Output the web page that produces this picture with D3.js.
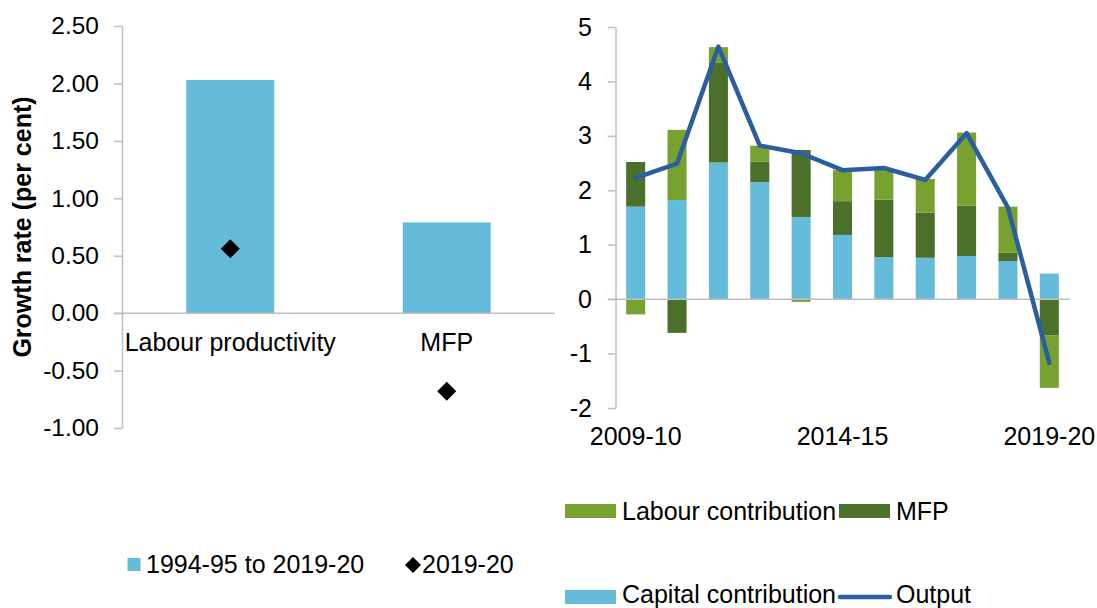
<!DOCTYPE html>
<html>
<head>
<meta charset="utf-8">
<script src="https://cdn.jsdelivr.net/npm/d3@7"></script>
<style>
  html, body { margin: 0; padding: 0; background: #fff; }
  svg { display: block; font-family: "Liberation Sans", Arial, sans-serif; }
</style>
</head>
<body>
<svg id="chart" width="1097" height="608"></svg>
<script>
// ---------- Left panel data ----------
const leftCategories = ["Labour productivity", "MFP"];
const longRunGrowth = [2.03, 0.79];      // 1994-95 to 2019-20
const latestGrowth = [0.56, -0.68];      // 2019-20
const leftTicks = [-1, -0.5, 0, 0.5, 1, 1.5, 2, 2.5];

// ---------- Right panel data ----------
const years = ["2009-10","2010-11","2011-12","2012-13","2013-14","2014-15",
               "2015-16","2016-17","2017-18","2018-19","2019-20"];
const capitalContribution = [1.70, 1.82, 2.51, 2.15, 1.51, 1.18, 0.77, 0.76, 0.79, 0.70, 0.47];
const mfpContribution     = [0.82, -0.62, 1.83, 0.38, 1.23, 0.62, 1.06, 0.83, 0.93, 0.15, -0.67];
const labourContribution  = [-0.28, 1.29, 0.29, 0.29, -0.05, 0.57, 0.55, 0.62, 1.34, 0.85, -0.96];
const outputGrowth        = [2.23, 2.49, 4.64, 2.82, 2.68, 2.37, 2.41, 2.19, 3.05, 1.68, -1.17];
const rightTicks = [-2, -1, 0, 1, 2, 3, 4, 5];
const rightXTickLabels = ["2009-10", "2014-15", "2019-20"];

const C_CAP = "#65BBDA", C_MFP = "#4B7029", C_LAB = "#78A22F", C_OUT = "#2B5E9E", C_AX = "#BFBFBF";
const FS = 25;
const FONT = "Liberation Sans, Arial";

const svg = d3.select("#chart");

function diamond(cx, cy, r) {
  return `M${cx},${cy - r}L${cx + r},${cy}L${cx},${cy + r}L${cx - r},${cy}Z`;
}
const hyphenate = s => String(s).replace("\u2212", "-");

// ================= LEFT PANEL =================
const lx = d3.scaleBand().domain(leftCategories).range([122, 555]).paddingInner(0.594).paddingOuter(0.297);
const ly = d3.scaleLinear().domain([-1, 2.5]).range([428, 26]);
const f2 = d3.format(".2f");

const lyAxis = svg.append("g").attr("transform", "translate(122,0)")
  .call(d3.axisLeft(ly).tickValues(leftTicks).tickFormat(d => hyphenate(f2(d))).tickSize(8).tickSizeOuter(0).tickPadding(15));
lyAxis.select(".domain").attr("stroke", C_AX).attr("stroke-width", 1.5);
lyAxis.selectAll(".tick line").attr("stroke", C_AX).attr("stroke-width", 1.5);
lyAxis.selectAll(".tick text").attr("font-size", 24.5).attr("fill", "#000").attr("font-family", FONT);

svg.append("g").selectAll("rect").data(leftCategories).join("rect")
  .attr("x", d => lx(d)).attr("width", lx.bandwidth())
  .attr("y", (d, i) => ly(Math.max(0, longRunGrowth[i])))
  .attr("height", (d, i) => Math.abs(ly(longRunGrowth[i]) - ly(0)))
  .attr("fill", C_CAP);

svg.append("line").attr("x1", 114).attr("x2", 555).attr("y1", ly(0)).attr("y2", ly(0))
  .attr("stroke", C_AX).attr("stroke-width", 1.5);

const lxAxis = svg.append("g").attr("transform", `translate(0,${ly(0)})`)
  .call(d3.axisBottom(lx).tickSize(0).tickPadding(20));
lxAxis.select(".domain").remove();
lxAxis.selectAll(".tick text").attr("font-size", FS).attr("fill", "#000").attr("font-family", FONT);

svg.append("g").selectAll("path").data(leftCategories).join("path")
  .attr("d", (d, i) => diamond(lx(d) + lx.bandwidth() / 2, ly(latestGrowth[i]), 9.5))
  .attr("fill", "#000");

svg.append("text")
  .attr("transform", `translate(31,${(ly(2.5) + ly(-1)) / 2}) rotate(-90)`)
  .attr("text-anchor", "middle").attr("font-size", FS).attr("font-weight", "bold")
  .text("Growth rate (per cent)");

// Left legend
const lLeg = svg.append("g");
lLeg.append("rect").attr("x", 127.5).attr("y", 558).attr("width", 13).attr("height", 13).attr("fill", C_CAP);
lLeg.append("text").attr("x", 146).attr("y", 573).attr("font-size", FS).text("1994-95 to 2019-20");
lLeg.append("path").attr("d", diamond(413, 565, 8)).attr("fill", "#000");
lLeg.append("text").attr("x", 422).attr("y", 573).attr("font-size", FS).text("2019-20");

// ================= RIGHT PANEL =================
const rx = d3.scaleBand().domain(years).range([615, 1070]).paddingInner(0.54).paddingOuter(0.27);
const ry = d3.scaleLinear().domain([-2, 5]).range([408, 27]);

const ryAxis = svg.append("g").attr("transform", "translate(615.5,0)")
  .call(d3.axisLeft(ry).tickValues(rightTicks).tickFormat(d => hyphenate(d3.format("d")(d))).tickSize(7.5).tickSizeOuter(0).tickPadding(16));
ryAxis.select(".domain").attr("stroke", C_AX).attr("stroke-width", 1.5);
ryAxis.selectAll(".tick line").attr("stroke", C_AX).attr("stroke-width", 1.5);
ryAxis.selectAll(".tick text").attr("font-size", FS).attr("fill", "#000").attr("font-family", FONT);

// stacked bars: capital, MFP, labour (diverging)
const seriesDefs = [
  { key: "capital", values: capitalContribution, color: C_CAP },
  { key: "mfp", values: mfpContribution, color: C_MFP },
  { key: "labour", values: labourContribution, color: C_LAB }
];
const rows = years.map((y, i) => {
  const r = { year: y };
  seriesDefs.forEach(s => r[s.key] = s.values[i]);
  return r;
});
const stack = d3.stack().keys(seriesDefs.map(s => s.key)).offset(d3.stackOffsetDiverging);
const stacked = stack(rows);

svg.append("g").selectAll("g").data(stacked).join("g")
  .attr("fill", (d, i) => seriesDefs[i].color)
  .selectAll("rect").data(d => d).join("rect")
  .attr("x", d => rx(d.data.year)).attr("width", rx.bandwidth())
  .attr("y", d => ry(Math.max(d[0], d[1])))
  .attr("height", d => Math.abs(ry(d[0]) - ry(d[1])));

svg.append("line").attr("x1", 608).attr("x2", 1070).attr("y1", ry(0)).attr("y2", ry(0))
  .attr("stroke", C_AX).attr("stroke-width", 1.5);

const rxAxis = svg.append("g").attr("transform", "translate(0,408)")
  .call(d3.axisBottom(rx).tickValues(rightXTickLabels).tickSize(0).tickPadding(19));
rxAxis.select(".domain").remove();
rxAxis.selectAll(".tick text").attr("font-size", FS).attr("fill", "#000").attr("font-family", FONT);

const line = d3.line()
  .x((d, i) => rx(years[i]) + rx.bandwidth() / 2)
  .y(d => ry(d));
svg.append("path").datum(outputGrowth)
  .attr("d", line).attr("fill", "none").attr("stroke", C_OUT)
  .attr("stroke-width", 4.5).attr("stroke-linejoin", "round").attr("stroke-linecap", "round");

// Right legend
const rLeg = svg.append("g");
rLeg.append("rect").attr("x", 565).attr("y", 504).attr("width", 51).attr("height", 14).attr("fill", C_LAB);
rLeg.append("text").attr("x", 622).attr("y", 520).attr("font-size", FS).text("Labour contribution");
rLeg.append("rect").attr("x", 839).attr("y", 504).attr("width", 51).attr("height", 14).attr("fill", C_MFP);
rLeg.append("text").attr("x", 896).attr("y", 520).attr("font-size", FS).text("MFP");
rLeg.append("rect").attr("x", 565).attr("y", 590).attr("width", 51).attr("height", 14).attr("fill", C_CAP);
rLeg.append("text").attr("x", 622).attr("y", 603).attr("font-size", FS).text("Capital contribution");
rLeg.append("line").attr("x1", 840).attr("x2", 890).attr("y1", 597).attr("y2", 597)
  .attr("stroke", C_OUT).attr("stroke-width", 4.5).attr("stroke-linecap", "round");
rLeg.append("text").attr("x", 896).attr("y", 603).attr("font-size", FS).text("Output");
</script>
</body>
</html>
